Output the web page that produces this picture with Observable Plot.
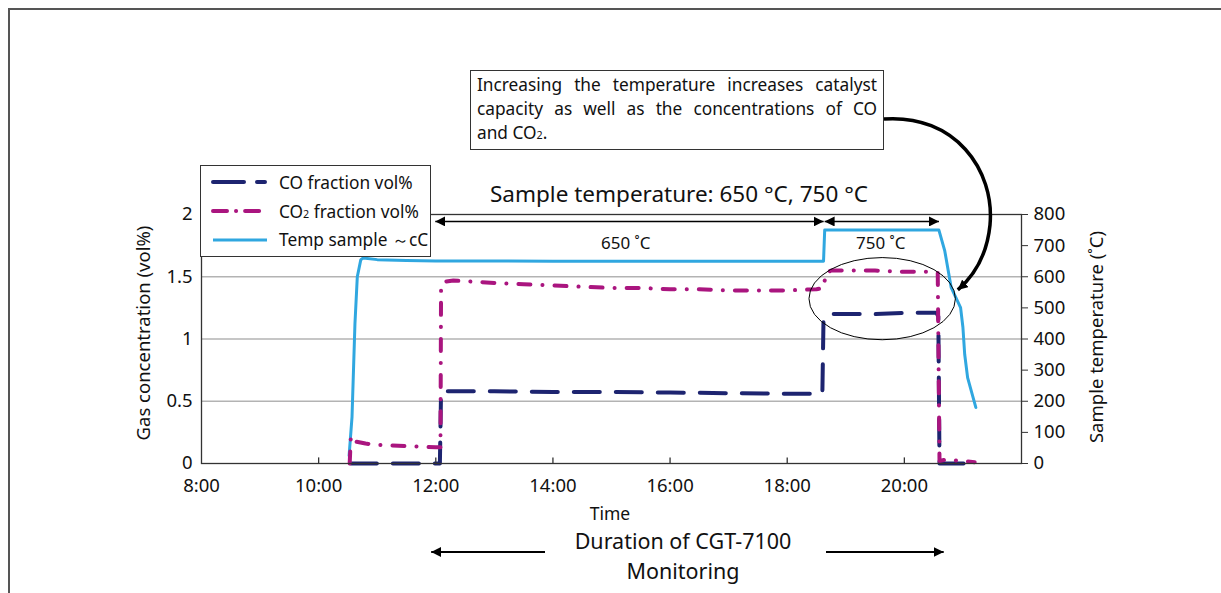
<!DOCTYPE html>
<html>
<head>
<meta charset="utf-8">
<script src="https://cdn.jsdelivr.net/npm/d3@7"></script>
<script src="https://cdn.jsdelivr.net/npm/@observablehq/plot@0.6"></script>
<style>
  body { margin: 0; background: #fff; }
  #wrap { position: relative; width: 1221px; height: 593px; overflow: hidden; background: #fff;
          font-family: "Noto Sans", "Open Sans", sans-serif; color: #111; }
  #chart { position: absolute; left: 0; top: 0; }
  .abs { position: absolute; white-space: nowrap; line-height: 1; }
  .sub { font-size: 0.62em; }
  #border { position: absolute; left: 8px; top: 8px; right: -10px; bottom: -10px;
            border-top: 2px solid #555; border-left: 2px solid #555; }
  #legend { position: absolute; left: 200px; top: 165px; width: 229px; height: 90px;
            border: 1.3px solid #333; background: #fff; font-size: 17.3px; }
  #legend .row { position: absolute; left: 10px; height: 22px; display: flex; align-items: center; }
  #legend svg { margin-right: 10px; }
  #note { position: absolute; left: 470px; top: 70px; width: 400px; height: 78px; padding: 0 6px;
          border: 1.3px solid #333; background: #fff; font-size: 17.3px; line-height: 24px; }
  #note .j { text-align: justify; text-align-last: justify; }
</style>
</head>
<body>
<div id="wrap">
  <div id="chart"></div>
  <div id="border"></div>
  <div id="legend"></div>
  <div id="note">
    <div class="j" style="margin-top:2px">Increasing the temperature increases catalyst</div>
    <div class="j">capacity as well as the concentrations of CO</div>
    <div>and CO<span class="sub">2</span>.</div>
  </div>
  <div class="abs" style="left:490px;top:183px;font-size:22.5px;">Sample temperature: 650 °C, 750 °C</div>
  <div class="abs" style="left:601px;top:234px;font-size:17px;">650 ˚C</div>
  <div class="abs" style="left:856px;top:234px;font-size:17px;">750 ˚C</div>
  <div class="abs" style="left:610px;top:514px;font-size:17.5px;transform:translate(-50%,-50%);">Time</div>
  <div class="abs" style="left:683px;top:541px;font-size:21.5px;transform:translate(-50%,-50%);">Duration of CGT-7100</div>
  <div class="abs" style="left:683px;top:571px;font-size:21.5px;transform:translate(-50%,-50%);">Monitoring</div>
  <div class="abs" style="left:143px;top:333px;font-size:18.5px;transform:translate(-50%,-50%) rotate(-90deg);">Gas concentration (vol%)</div>
  <div class="abs" style="left:1096px;top:337px;font-size:18.5px;transform:translate(-50%,-50%) rotate(-90deg);">Sample temperature (˚C)</div>
</div>
<script>
// time in decimal hours
const tempTime  = [10.52, 10.57, 10.62, 10.66, 10.72, 10.76, 11.0, 11.5, 12.0, 14.0, 16.0, 18.0, 18.62, 18.64, 19.0, 20.0, 20.59, 20.69, 20.80, 20.96, 21.0, 21.03, 21.08, 21.22];
const tempValue = [25, 150, 450, 600, 655, 660, 655, 652, 651, 650, 650, 650, 650, 750, 750, 750, 750, 683, 565, 501, 437, 351, 276, 180];

const co2Time  = [10.53, 10.55, 10.6, 10.8, 11.0, 11.5, 12.0, 12.08, 12.09, 12.15, 12.3, 13.0, 13.5, 14.0, 14.5, 15.0, 15.5, 16.0, 16.5, 17.0, 17.5, 18.0, 18.5, 18.62, 18.66, 18.75, 19.0, 19.5, 20.0, 20.5, 20.57, 20.6, 20.7, 21.0, 21.2];
const co2Value = [0, 0.22, 0.18, 0.16, 0.15, 0.14, 0.13, 0.13, 1.42, 1.46, 1.47, 1.45, 1.44, 1.43, 1.42, 1.41, 1.41, 1.40, 1.40, 1.39, 1.39, 1.39, 1.40, 1.41, 1.53, 1.55, 1.55, 1.55, 1.54, 1.54, 1.53, 0.02, 0.03, 0.02, 0.01];

const coTime  = [10.55, 12.07, 12.09, 12.3, 13.0, 14.0, 15.0, 16.0, 17.0, 18.0, 18.6, 18.62, 18.7, 19.0, 19.5, 20.0, 20.55, 20.58, 20.6, 21.1];
const coValue = [0, 0, 0.58, 0.58, 0.58, 0.575, 0.575, 0.57, 0.565, 0.56, 0.56, 1.17, 1.2, 1.2, 1.2, 1.21, 1.21, 1.18, 0, 0];

const xTicks = [8, 10, 12, 14, 16, 18, 20];
const gasTicks = [0, 0.5, 1, 1.5, 2];
const gridLines = [0.5, 1, 1.5];
const tempTicks = [0, 100, 200, 300, 400, 500, 600, 700, 800];
const TEMP_PER_VOL = 400; // 800 °C on the right = 2 vol% on the left

// annotation spans (hours) and callout target
const phaseSplit = [12.0, 18.63, 20.6];
const monitorSpan = [11.93, 20.68];
const ellipseAt = { t: 19.63, v: 1.32, rt: 1.25, rv: 0.33 };
const calloutTip = { t: 20.87, v: 1.35 };

const C_CO = "#1d2470", C_CO2 = "#aa157f", C_TEMP = "#30a7e0";
const DASH_CO = "26 16", DASH_CO2 = "12 12 0.1 12";

const rows = (ts, vs) => ts.map((t, i) => ({ t, v: vs[i] }));
const tempRows = rows(tempTime, tempValue);
const co2Rows = rows(co2Time, co2Value);
const coRows = rows(coTime, coValue);

const plot = Plot.plot({
  width: 1221,
  height: 593,
  marginLeft: 201,
  marginRight: 200,
  marginTop: 214,
  marginBottom: 130,
  x: { domain: [8, 22] },
  y: { domain: [0, 2] },
  style: { fontFamily: '"Noto Sans", sans-serif', fontSize: "18.5px", color: "#111", background: "transparent", overflow: "visible" },
  marks: [
    Plot.ruleY(gridLines, { stroke: "#b3b3b3", strokeWidth: 1.3 }),
    Plot.line(tempRows, { x: "t", y: d => d.v / TEMP_PER_VOL, stroke: C_TEMP, strokeWidth: 3 }),
    Plot.line(coRows, { x: "t", y: "v", stroke: C_CO, strokeWidth: 4, strokeDasharray: DASH_CO, strokeLinecap: "round" }),
    Plot.line(co2Rows, { x: "t", y: "v", stroke: C_CO2, strokeWidth: 4, strokeDasharray: DASH_CO2, strokeLinecap: "round" }),
    Plot.ruleX(xTicks.slice(1), { y1: 0, y2: 0.045, stroke: "#333", strokeWidth: 1.3 }),
    Plot.frame({ stroke: "#333", strokeWidth: 1.3 }),
    Plot.axisX(xTicks, { tickSize: 0, tickPadding: 15, tickFormat: d => `${d}:00`, label: null }),
    Plot.axisY(gasTicks, { anchor: "left", tickSize: 0, tickPadding: 9, tickFormat: d => String(d), label: null }),
    Plot.axisY(tempTicks.map(d => d / TEMP_PER_VOL), { anchor: "right", tickSize: 6, tickPadding: 6, tickFormat: d => String(Math.round(d * TEMP_PER_VOL)), label: null, stroke: "#333" })
  ]
});
document.getElementById("chart").append(plot);

// annotations drawn on top with the plot's own scales
const xs = plot.scale("x").apply, ys = plot.scale("y").apply;
const svg = d3.select(plot);
svg.append("defs").append("marker")
  .attr("id", "head").attr("viewBox", "0 0 10 10").attr("refX", 10).attr("refY", 5)
  .attr("markerWidth", 10).attr("markerHeight", 10).attr("markerUnits", "userSpaceOnUse")
  .attr("orient", "auto-start-reverse")
  .append("path").attr("d", "M0,0L10,5L0,10Z").attr("fill", "#000");

const g = svg.append("g").attr("fill", "none").attr("stroke", "#000");
const yArrow = ys(1.94);
for (let i = 0; i < 2; i++) {
  g.append("line").attr("x1", xs(phaseSplit[i]) + (i ? 1 : 0)).attr("x2", xs(phaseSplit[i + 1]))
    .attr("y1", yArrow).attr("y2", yArrow).attr("stroke-width", 1.6)
    .attr("marker-start", "url(#head)").attr("marker-end", "url(#head)");
}
g.append("ellipse").attr("cx", xs(ellipseAt.t)).attr("cy", ys(ellipseAt.v))
  .attr("rx", xs(ellipseAt.t + ellipseAt.rt) - xs(ellipseAt.t))
  .attr("ry", ys(ellipseAt.v - ellipseAt.rv) - ys(ellipseAt.v))
  .attr("stroke-width", 1);
const tx = xs(calloutTip.t), ty = ys(calloutTip.v);
g.append("path")
  .attr("d", `M884,119 C955,114 995,170 990,225 C987,255 975,275 ${tx + 3},${ty - 5}`)
  .attr("stroke-width", 3.5).attr("marker-end", "url(#head)");
// bottom "duration" arrows
const yb = 552;
g.append("line").attr("x1", 545).attr("x2", xs(monitorSpan[0])).attr("y1", yb).attr("y2", yb)
  .attr("stroke-width", 1.8).attr("marker-end", "url(#head)");
g.append("line").attr("x1", 826).attr("x2", xs(monitorSpan[1])).attr("y1", yb).attr("y2", yb)
  .attr("stroke-width", 1.8).attr("marker-end", "url(#head)");

// legend
const legendItems = [
  { html: "CO fraction vol%", color: C_CO, dash: "31 13 8 20" },
  { html: 'CO<span class="sub">2</span> fraction vol%', color: C_CO2, dash: "14 9 0.1 9 14 20" },
  { html: "Temp sample ～cC", color: C_TEMP, dash: null }
];
const legend = document.getElementById("legend");
legendItems.forEach((it, i) => {
  const row = document.createElement("div");
  row.className = "row";
  row.style.top = `${5 + i * 29}px`;
  row.innerHTML = `<svg width="58" height="10"><line x1="2" x2="${it.dash ? 54 : 56}" y1="5" y2="5" stroke="${it.color}" stroke-width="${it.dash ? 4 : 3}" ${it.dash ? `stroke-dasharray="${it.dash}" stroke-linecap="round"` : ""}/></svg><span>${it.html}</span>`;
  legend.append(row);
});
</script>
</body>
</html>
